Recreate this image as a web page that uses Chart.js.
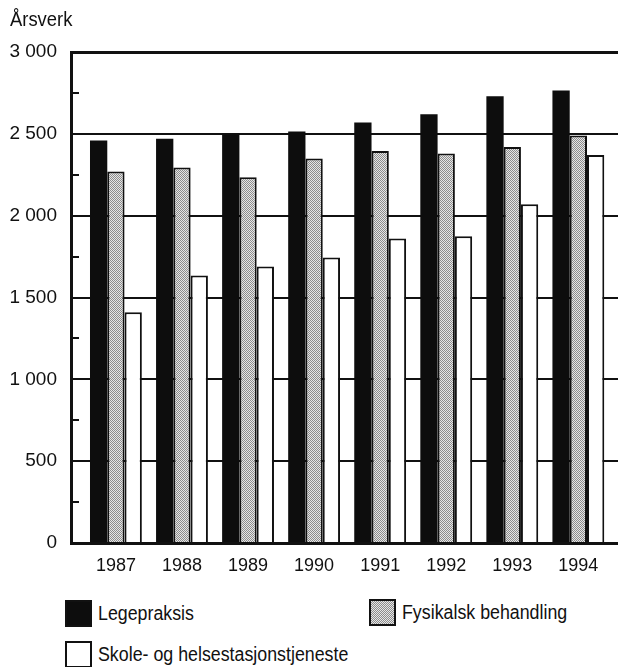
<!DOCTYPE html>
<html>
<head>
<meta charset="utf-8">
<script src="https://cdn.jsdelivr.net/npm/chart.js@4"></script>
<style>
  html, body { margin: 0; padding: 0; background: #fff; }
  body { width: 618px; height: 667px; position: relative; overflow: hidden;
         font-family: "Liberation Sans", Arial, sans-serif; color: #111; }
  #wrap { position: absolute; left: 0; top: 0; width: 618px; height: 590px; }
  #unit { position: absolute; left: 10px; top: 8px; font-size: 20px;
          transform: scaleX(0.92); transform-origin: 0 0; }
  .leg { position: absolute; font-size: 20px; line-height: 27px; white-space: nowrap; }
  .leg i { display: inline-block; width: 23px; height: 23px; border: 2px solid #111;
           vertical-align: top; margin-right: 6px; }
  .leg span { display: inline-block; transform: scaleX(0.89); transform-origin: 0 50%; }
  .dark { background: #0d0d0d; }
  .dots { background: repeating-conic-gradient(#8c8c8c 0 25%, #e6e6e6 0 50%);
          background-size: 2px 2px; }
  .blank { background: #fff; }
</style>
</head>
<body>
<div id="wrap"><canvas id="c"></canvas></div>
<div id="unit">Årsverk</div>
<div class="leg" style="left:65px; top:600px;"><i class="dark"></i><span>Legepraksis</span></div>
<div class="leg" style="left:369px; top:599px;"><i class="dots"></i><span>Fysikalsk behandling</span></div>
<div class="leg" style="left:65px; top:641px;"><i class="blank"></i><span>Skole- og helsestasjonstjeneste</span></div>
<script>
// Årsverk per year, 1987–1994
const years = [1987, 1988, 1989, 1990, 1991, 1992, 1993, 1994];
const legepraksis = [2460, 2470, 2500, 2515, 2570, 2620, 2730, 2765];
const fysikalsk = [2270, 2295, 2235, 2350, 2395, 2380, 2420, 2490];
const skole = [1410, 1635, 1690, 1745, 1860, 1875, 2070, 2370];
const yTicks = [0, 500, 1000, 1500, 2000, 2500, 3000];
const yMinorTicks = [250, 750, 1250, 1750, 2250, 2750];

// stippled grey fill
function stipple() {
  const t = document.createElement('canvas');
  t.width = 2; t.height = 2;
  const g = t.getContext('2d');
  g.fillStyle = '#e6e6e6'; g.fillRect(0, 0, 2, 2);
  g.fillStyle = '#8c8c8c';
  g.fillRect(0, 0, 1, 1); g.fillRect(1, 1, 1, 1);
  return g.createPattern(t, 'repeat');
}

const pts = arr => years.map((y, i) => ({ x: y, y: arr[i] }));
const fmt = v => v >= 1000 ? Math.floor(v / 1000) + ' ' + String(v % 1000).padStart(3, '0') : String(v);

// short inward ticks on the value axis between the labelled values
const minorTicks = {
  id: 'minorTicks',
  afterDraw(chart) {
    const y = chart.scales.y, ctx = chart.ctx, x0 = chart.chartArea.left;
    ctx.save();
    ctx.strokeStyle = '#111';
    ctx.lineWidth = 2;
    yMinorTicks.forEach(v => {
      const p = Math.round(y.getPixelForValue(v));
      ctx.beginPath(); ctx.moveTo(x0, p); ctx.lineTo(x0 + 8, p); ctx.stroke();
    });
    ctx.restore();
  }
};

const family = '"Liberation Sans", Arial, sans-serif';

new Chart(document.getElementById('c'), {
  type: 'bar',
  data: {
    datasets: [
      { label: 'Legepraksis', data: pts(legepraksis), backgroundColor: '#0d0d0d', borderWidth: 0 },
      { label: 'Fysikalsk behandling', data: pts(fysikalsk), backgroundColor: stipple(), borderColor: '#111', borderWidth: 2 },
      { label: 'Skole- og helsestasjonstjeneste', data: pts(skole), backgroundColor: '#fff', borderColor: '#111', borderWidth: 2 }
    ]
  },
  options: {
    responsive: true,
    maintainAspectRatio: false,
    animation: false,
    barPercentage: 1,
    categoryPercentage: 0.785,
    layout: { padding: { top: 52, right: 0, left: 0, bottom: 0 } },
    plugins: { legend: { display: false }, tooltip: { enabled: false } },
    scales: {
      x: {
        type: 'linear',
        offset: false,
        min: 1986.32,
        max: 1994.6,
        afterBuildTicks: s => { s.ticks = years.map(v => ({ value: v })); },
        afterFit: s => { s.height = 47; s.paddingLeft = 0; s.paddingRight = 0; },
        grid: { display: false, drawTicks: false },
        border: { display: true, color: '#111', width: 3 },
        ticks: { color: '#111', font: { family, size: 18 }, padding: 12, maxRotation: 0, callback: v => String(v) }
      },
      y: {
        min: 0,
        max: 3000,
        afterBuildTicks: s => { s.ticks = yTicks.map(v => ({ value: v })); },
        afterFit: s => { s.width = 71; },
        grid: {
          drawTicks: false,
          color: '#111',
          lineWidth: c => (c.tick && c.tick.value === 3000) ? 3 : 2
        },
        border: { display: true, color: '#111', width: 3 },
        ticks: { color: '#111', font: { family, size: 19 }, padding: 14, callback: v => fmt(v) }
      }
    }
  },
  plugins: [minorTicks]
});
</script>
</body>
</html>
